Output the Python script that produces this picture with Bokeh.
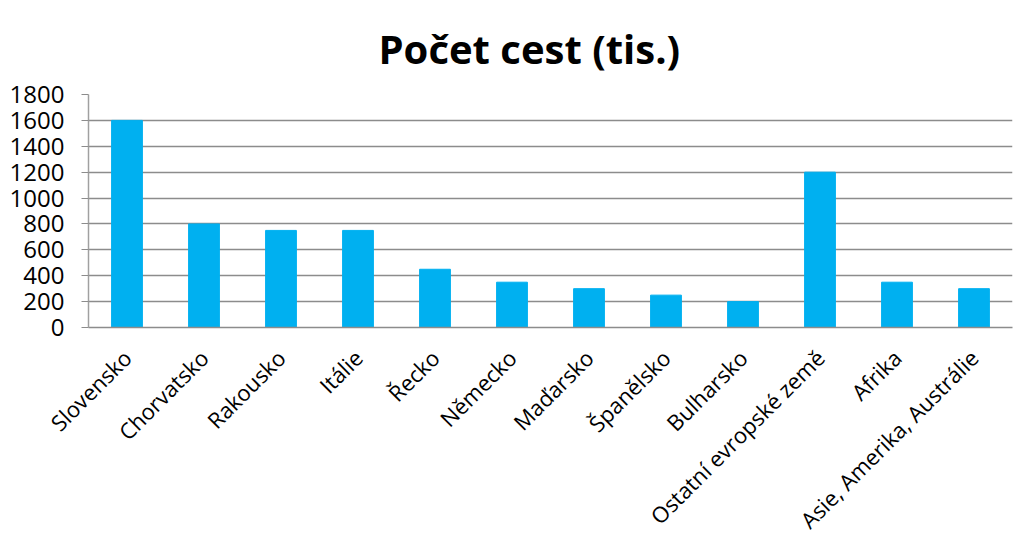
from math import pi
from bokeh.plotting import figure
from bokeh.models import FactorRange, Range1d, ColumnDataSource, FixedTicker
from bokeh.embed import file_html
from bokeh.resources import INLINE

title_text = "Počet cest (tis.)"
categories = ["Slovensko", "Chorvatsko", "Rakousko", "Itálie", "Řecko", "Německo",
              "Maďarsko", "Španělsko", "Bulharsko", "Ostatní evropské země",
              "Afrika", "Asie, Amerika, Austrálie"]
values = [1600, 800, 750, 750, 450, 350, 300, 250, 200, 1200, 350, 300]
y_ticks = [0, 200, 400, 600, 800, 1000, 1200, 1400, 1600, 1800]

src = ColumnDataSource(dict(cat=categories, val=values))

p = figure(x_range=FactorRange(*categories, range_padding=0),
           y_range=Range1d(0, 1800),
           width=1014, height=560, output_backend="svg", toolbar_location=None,
           title=title_text,
           min_border_left=88, min_border_right=2, min_border_top=94, min_border_bottom=233)

p.vbar(x="cat", top="val", width=0.4, source=src, color="#00B0F0")

p.title.align = "left"
p.title.text_font = "Open Sans"
p.title.text_font_style = "bold"
p.title.text_font_size = "40px"
p.title.text_color = "#000000"
p.title.offset = 290
p.title.standoff = 37

p.outline_line_color = None
p.xgrid.grid_line_color = None
p.ygrid.grid_line_color = "#8c8c8c"
p.ygrid.grid_line_width = 1.5
p.yaxis.ticker = FixedTicker(ticks=y_ticks)
p.yaxis.axis_line_color = "#a0a0a0"
p.yaxis.axis_line_width = 1.5
p.yaxis.major_tick_line_color = "#8c8c8c"
p.yaxis.major_tick_in = 0
p.yaxis.major_tick_out = 7
p.yaxis.minor_tick_line_color = None
p.yaxis.major_label_text_font = "Open Sans"
p.yaxis.major_label_text_font_size = "24px"
p.yaxis.major_label_text_color = "#000000"
p.yaxis.major_label_standoff = 17

p.xaxis.axis_line_color = "#8c8c8c"
p.xaxis.axis_line_width = 1.5
p.xaxis.major_tick_line_color = None
p.xaxis.minor_tick_line_color = None
p.xaxis.major_label_orientation = pi / 4
p.xaxis.major_label_text_font = "Open Sans"
p.xaxis.major_label_text_font_size = "22px"
p.xaxis.major_label_text_color = "#000000"
p.xaxis.major_label_standoff = 20

html = file_html(p, INLINE)
html = html.replace("</head>", "<style>html,body{overflow:hidden}</style></head>", 1)
open("out.html", "w").write(html)
